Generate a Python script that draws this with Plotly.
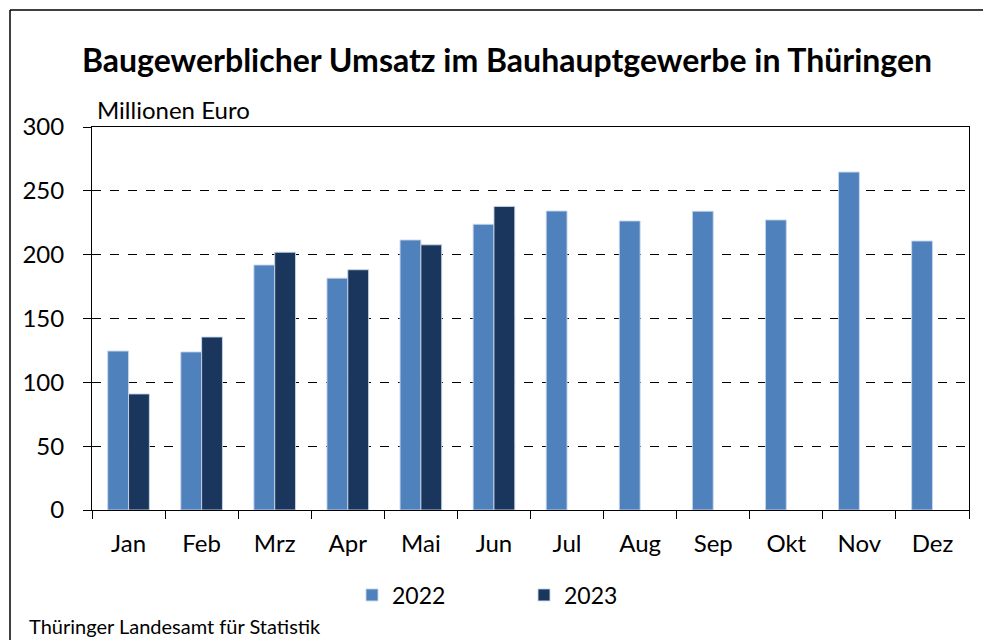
import plotly.graph_objects as go

months = ["Jan", "Feb", "Mrz", "Apr", "Mai", "Jun", "Jul", "Aug", "Sep", "Okt", "Nov", "Dez"]
values_2022 = [124.5, 123.8, 191.9, 181.6, 211.5, 223.8, 234.2, 226.4, 234.0, 227.2, 264.7, 210.7]
values_2023 = [90.9, 135.5, 201.9, 188.2, 207.7, 237.8, None, None, None, None, None, None]
y_ticks = [0, 50, 100, 150, 200, 250, 300]

FONT = "Lato"
C22 = "#4F81BD"
C23 = "#1B365D"

fig = go.Figure()
fig.add_trace(go.Bar(x=months, y=values_2022, name="2022",
                     marker=dict(color=C22, line=dict(color="rgba(200,215,235,0.9)", width=1))))
fig.add_trace(go.Bar(x=months, y=values_2023, name="2023",
                     marker=dict(color=C23, line=dict(color="rgba(200,215,235,0.9)", width=1))))

W, H = 983, 640
L, T = 92, 127
R = W - 969
B = H - 510
pw, ph = W - L - R, H - T - B

def px(x):
    return (x - L) / pw

def py(y):
    return (H - B - y) / ph

fig.update_layout(
    width=W, height=H,
    margin=dict(l=L, r=R, t=T, b=B),
    paper_bgcolor="white", plot_bgcolor="white",
    barmode="group", bargap=0.43, bargroupgap=0.0,
    font=dict(family=FONT, size=24, color="black"),
    showlegend=True,
    legend=dict(orientation="h", x=px(352), y=py(595), xanchor="left", yanchor="middle",
                entrywidth=127, entrywidthmode="pixels", font=dict(size=23, family=FONT),
                bgcolor="rgba(0,0,0,0)"),
    xaxis=dict(showline=True, linecolor="black", linewidth=1, mirror=True,
               ticks="outside", tickson="boundaries", ticklen=8, tickcolor="black",
               tickfont=dict(size=24, family=FONT), showgrid=False, ticklabelstandoff=12),
    yaxis=dict(range=[0, 300], tickvals=y_ticks, showline=True, linecolor="black", linewidth=1, mirror=True,
               ticks="outside", ticklen=8, tickcolor="black",
               showgrid=True, gridcolor="black", griddash="dash", gridwidth=1,
               tickfont=dict(size=24, family=FONT), zeroline=False, ticklabelstandoff=14),
    shapes=[
        dict(type="line", xref="paper", yref="paper", x0=px(10), x1=px(983), y0=py(10), y1=py(10),
             line=dict(color="black", width=1.5), layer="above"),
        dict(type="line", xref="paper", yref="paper", x0=px(10), x1=px(10), y0=py(10), y1=py(640),
             line=dict(color="black", width=1.5), layer="above"),
    ],
    annotations=[
        dict(text="<b>Baugewerblicher Umsatz im Bauhauptgewerbe in Thüringen</b>", xref="paper", yref="paper",
             x=px(507), y=py(60), xanchor="center", yanchor="middle", showarrow=False,
             font=dict(size=32, family=FONT, color="black")),
        dict(text="Millionen Euro", xref="paper", yref="paper", x=px(95), y=py(109),
             xanchor="left", yanchor="middle", showarrow=False, font=dict(size=24, family=FONT)),
        dict(text="Thüringer Landesamt für Statistik", xref="paper", yref="paper", x=px(27), y=py(626),
             xanchor="left", yanchor="middle", showarrow=False, font=dict(size=20, family=FONT)),
    ],
)

fig.write_html("out.html", config={"displayModeBar": False},
               post_script="document.body.style.margin='0';document.body.style.overflow='hidden';"
                           "document.documentElement.style.overflow='hidden';")
